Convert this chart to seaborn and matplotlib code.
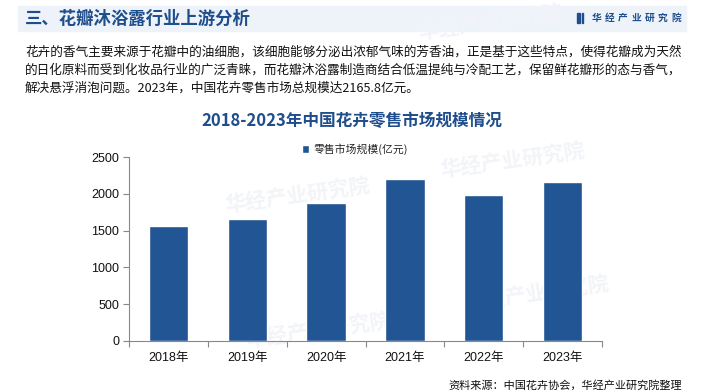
import pandas as pd
import seaborn as sns
import matplotlib.pyplot as plt
from matplotlib.patches import Rectangle

# data
years = ['2018年', '2019年', '2020年', '2021年', '2022年', '2023年']
retail_size = [1563, 1659, 1877, 2204, 1986, 2165.8]
series_name = '零售市场规模(亿元)'

header_title = '三、花瓣沐浴露行业上游分析'
brand = '华经产业研究院'
intro_lines = [
    '花卉的香气主要来源于花瓣中的油细胞，该细胞能够分泌出浓郁气味的芳香油，正是基于这些特点，使得花瓣成为天然',
    '的日化原料而受到化妆品行业的广泛青睐，而花瓣沐浴露制造商结合低温提纯与冷配工艺，保留鲜花瓣形的态与香气，',
    '解决悬浮消泡问题。2023年，中国花卉零售市场总规模达2165.8亿元。',
]
chart_title = '2018-2023年中国花卉零售市场规模情况'
source = '资料来源：中国花卉协会，华经产业研究院整理'

df = pd.DataFrame({'year': years, 'value': retail_size})

sns.set_theme(style='white')
plt.rcParams['font.family'] = ['Noto Sans CJK SC', 'DejaVu Sans']
plt.rcParams['axes.unicode_minus'] = False
num_font = ['Liberation Sans', 'Noto Sans CJK SC']

dark_blue = '#1F4E8C'
bar_blue = '#215593'

fig = plt.figure(figsize=(7.04, 3.91), dpi=100)
W, H = 704, 391


def fx(x):
    return x / W


def fy(y):
    return 1 - y / H


# faint watermarks
for (x, y) in [(297, 195), (512, 160), (536, 293), (318, 330), (490, 22)]:
    fig.text(fx(x), fy(y), brand, fontsize=15, fontweight='bold', color='#F2F4F8',
             rotation=8, ha='center', va='center', zorder=-5)

# header band
fig.patches.append(Rectangle((fx(18), fy(31)), (686 - 18) / W, 25 / H,
                             transform=fig.transFigure, color='#EEF3FA', zorder=-10))
fig.text(fx(25), fy(18.5), header_title, fontsize=12.5, fontweight='bold',
         color=dark_blue, va='center', ha='left')
# brand logo
fig.patches.append(Rectangle((fx(577), fy(23)), 3 / W, 10 / H,
                             transform=fig.transFigure, color=dark_blue))
fig.patches.append(Rectangle((fx(581.5), fy(23)), 1.5 / W, 10 / H,
                             transform=fig.transFigure, color=dark_blue))
for i, ch in enumerate(brand):
    fig.text(fx(596.5 + i * 13.3), fy(17.5), ch, fontsize=7, fontweight='bold',
             color=dark_blue, va='center', ha='center')

# intro paragraph
for i, line in enumerate(intro_lines):
    fig.text(fx(25), fy(52 + i * 18), line, fontsize=9.1, color='#111111',
             va='center', ha='left')

fig.text(fx(352), fy(121), chart_title, fontsize=12, fontweight='bold',
         color=dark_blue, va='center', ha='center')

# chart
ax = fig.add_axes([fx(129), fy(340.7), (602 - 129) / W, (340.7 - 157.3) / H])
ax.patch.set_alpha(0)
sns.barplot(data=df, x='year', y='value', color=bar_blue, width=0.5,
            saturation=1, ax=ax, label=series_name)
ax.set_ylim(0, 2500)
ax.set_xlim(-0.5, len(years) - 0.5)
ax.set_yticks(range(0, 2501, 500))
ax.set_xlabel('')
ax.set_ylabel('')
ax.tick_params(axis='both', labelsize=9, colors='#111111')
ax.tick_params(axis='y', length=4, direction='out', width=0.8, color='#888888',
               left=True, pad=3)
ax.set_xticks([i - 0.5 for i in range(len(years) + 1)], minor=True)
ax.tick_params(axis='x', which='major', length=0, pad=8)
ax.tick_params(axis='x', which='minor', length=4, direction='out', width=0.8,
               color='#888888', bottom=True)
for lab in ax.get_xticklabels() + ax.get_yticklabels():
    lab.set_family(num_font)
for s in ['top', 'right']:
    ax.spines[s].set_visible(False)
for s in ['left', 'bottom']:
    ax.spines[s].set_color('#888888')
    ax.spines[s].set_linewidth(0.8)

leg = ax.legend(loc='center', bbox_to_anchor=(0.478, 1.045), frameon=False,
                fontsize=7.8, handlelength=0.7, handleheight=0.7, handletextpad=0.4)

fig.text(fx(682), fy(385), source, fontsize=8, color='#111111',
         va='center', ha='right')

fig.savefig('out.png', dpi=100)
